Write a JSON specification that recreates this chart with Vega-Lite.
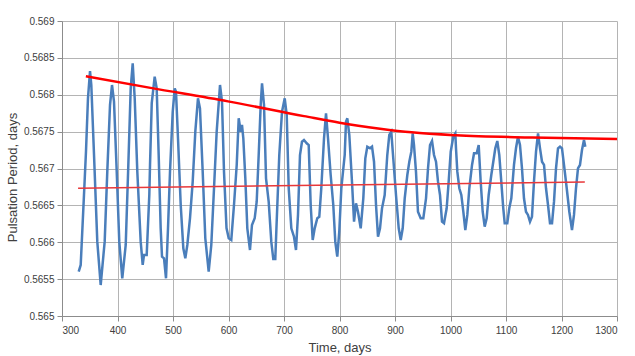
{
  "$schema": "https://vega.github.io/schema/vega-lite/v6.json",
  "autosize": "none",
  "width": 555,
  "height": 295,
  "padding": {"left": 62, "top": 21, "right": 18, "bottom": 40},
  "background": "white",
  "config": {
    "view": {"stroke": null},
    "font": "Liberation Sans",
    "axis": {
      "gridColor": "#b4b4b4",
      "gridWidth": 1,
      "domainColor": "#8c8c8c",
      "tickColor": "#8c8c8c",
      "tickSize": 5,
      "labelColor": "#404040",
      "labelFontSize": 10,
      "labelOverlap": false,
      "titleColor": "#404040",
      "titleFontSize": 13,
      "titleFontWeight": "normal"
    }
  },
  "datasets": {
    "obs": [
      {"t":330.1,"p":0.565601},{"t":333.7,"p":0.565692},{"t":339.6,"p":0.566641},{"t":343.2,"p":0.567228},{"t":346.8,"p":0.567952},{"t":350.5,"p":0.568322},{"t":352.8,"p":0.568132},{"t":357.7,"p":0.567183},{"t":363.6,"p":0.566008},{"t":369.7,"p":0.56542},
      {"t":376.9,"p":0.566008},{"t":381.6,"p":0.566957},{"t":386.5,"p":0.567861},{"t":390.1,"p":0.568132},{"t":393.7,"p":0.567906},{"t":398.6,"p":0.566957},{"t":403.2,"p":0.566008},{"t":408.6,"p":0.565511},{"t":414.8,"p":0.565963},{"t":419.5,"p":0.567048},
      {"t":423.8,"p":0.568087},{"t":427.4,"p":0.568426},{"t":431.0,"p":0.567952},{"t":435.7,"p":0.566957},{"t":441.8,"p":0.566008},{"t":445.4,"p":0.565692},{"t":447.7,"p":0.565827},{"t":452.6,"p":0.565827},{"t":457.3,"p":0.566641},{"t":458.6,"p":0.567048},
      {"t":461.7,"p":0.567888},{"t":467.0,"p":0.568245},{"t":470.6,"p":0.568087},{"t":474.2,"p":0.567183},{"t":477.8,"p":0.566189},{"t":480.2,"p":0.565804},{"t":483.8,"p":0.565782},{"t":487.4,"p":0.565511},{"t":491.0,"p":0.566189},{"t":494.6,"p":0.566957},
      {"t":499.5,"p":0.56777},{"t":503.1,"p":0.568087},{"t":505.4,"p":0.568041},{"t":509.0,"p":0.56741},{"t":513.9,"p":0.566505},{"t":518.6,"p":0.565918},{"t":522.2,"p":0.565782},{"t":525.8,"p":0.565963},{"t":530.6,"p":0.566325},{"t":535.5,"p":0.566821},
      {"t":540.2,"p":0.567499},{"t":545.0,"p":0.567952},{"t":548.6,"p":0.567816},{"t":553.5,"p":0.566957},{"t":558.2,"p":0.566054},{"t":564.3,"p":0.565601},{"t":569.0,"p":0.565963},{"t":573.9,"p":0.566732},{"t":578.7,"p":0.567499},{"t":584.7,"p":0.568132},
      {"t":588.3,"p":0.567906},{"t":591.9,"p":0.566957},{"t":596.4,"p":0.566193},{"t":600.4,"p":0.566054},{"t":605.0,"p":0.566031},{"t":609.9,"p":0.566505},{"t":614.8,"p":0.567048},{"t":618.4,"p":0.567681},{"t":622.0,"p":0.567499},{"t":624.3,"p":0.56759},
      {"t":626.7,"p":0.56741},{"t":630.3,"p":0.566867},{"t":633.9,"p":0.566189},{"t":638.7,"p":0.565895},{"t":642.3,"p":0.566234},{"t":647.2,"p":0.566325},{"t":650.8,"p":0.56655},{"t":654.4,"p":0.567183},{"t":658.0,"p":0.567861},{"t":660.4,"p":0.568155},
      {"t":664.0,"p":0.567861},{"t":667.6,"p":0.566867},{"t":672.4,"p":0.56655},{"t":677.1,"p":0.566008},{"t":680.7,"p":0.565773},{"t":684.3,"p":0.565773},{"t":686.8,"p":0.566279},{"t":691.5,"p":0.567183},{"t":696.4,"p":0.56777},{"t":701.3,"p":0.567952},
      {"t":704.9,"p":0.567725},{"t":708.5,"p":0.566732},{"t":713.2,"p":0.566189},{"t":718.0,"p":0.566075},{"t":721.6,"p":0.565895},{"t":725.2,"p":0.56637},{"t":728.8,"p":0.567183},{"t":732.4,"p":0.567363},{"t":736.0,"p":0.567386},{"t":740.9,"p":0.567342},
      {"t":744.5,"p":0.567319},{"t":748.1,"p":0.566505},{"t":751.7,"p":0.566031},{"t":755.3,"p":0.566189},{"t":760.0,"p":0.566325},{"t":763.6,"p":0.566346},{"t":767.2,"p":0.566732},{"t":772.1,"p":0.56741},{"t":775.7,"p":0.567748},{"t":779.3,"p":0.56741},
      {"t":784.1,"p":0.566912},{"t":788.8,"p":0.566505},{"t":792.4,"p":0.566008},{"t":796.0,"p":0.565804},{"t":799.6,"p":0.566143},{"t":803.3,"p":0.566732},{"t":806.9,"p":0.567003},{"t":809.4,"p":0.567183},{"t":811.7,"p":0.567635},{"t":814.1,"p":0.567681},
      {"t":817.7,"p":0.567454},{"t":822.5,"p":0.566821},{"t":826.2,"p":0.566279},{"t":829.7,"p":0.566528},{"t":833.3,"p":0.566414},{"t":838.2,"p":0.566189},{"t":842.9,"p":0.566596},{"t":846.5,"p":0.567138},{"t":850.1,"p":0.567296},{"t":855.0,"p":0.567274},
      {"t":858.6,"p":0.567296},{"t":862.2,"p":0.567092},{"t":865.8,"p":0.566505},{"t":869.4,"p":0.566075},{"t":873.0,"p":0.566189},{"t":876.6,"p":0.56646},{"t":881.4,"p":0.566641},{"t":886.1,"p":0.567183},{"t":889.7,"p":0.567454},{"t":893.3,"p":0.567499},
      {"t":896.9,"p":0.567138},{"t":901.8,"p":0.566641},{"t":906.7,"p":0.566189},{"t":910.3,"p":0.566031},{"t":913.9,"p":0.566189},{"t":917.5,"p":0.566596},{"t":922.2,"p":0.566912},{"t":925.8,"p":0.567092},{"t":929.4,"p":0.567228},{"t":931.9,"p":0.567477},
      {"t":934.2,"p":0.567319},{"t":937.8,"p":0.566957},{"t":941.4,"p":0.566414},{"t":946.3,"p":0.566325},{"t":951.0,"p":0.566325},{"t":955.9,"p":0.566596},{"t":959.5,"p":0.567003},{"t":963.1,"p":0.567319},{"t":966.7,"p":0.567373},{"t":970.3,"p":0.567183},
      {"t":973.9,"p":0.567092},{"t":977.5,"p":0.566821},{"t":981.1,"p":0.566641},{"t":984.7,"p":0.566279},{"t":988.3,"p":0.566257},{"t":993.1,"p":0.56646},{"t":996.7,"p":0.566821},{"t":1000.4,"p":0.567228},{"t":1005.0,"p":0.567431},{"t":1008.7,"p":0.567477},
      {"t":1009.9,"p":0.567274},{"t":1012.3,"p":0.566957},{"t":1015.9,"p":0.566732},{"t":1019.5,"p":0.566641},{"t":1023.1,"p":0.566414},{"t":1026.7,"p":0.566166},{"t":1030.3,"p":0.56637},{"t":1033.9,"p":0.566732},{"t":1038.8,"p":0.567048},{"t":1042.4,"p":0.567206},
      {"t":1047.2,"p":0.567206},{"t":1050.8,"p":0.567319},{"t":1054.4,"p":0.566821},{"t":1058.0,"p":0.566414},{"t":1061.6,"p":0.566211},{"t":1065.2,"p":0.566325},{"t":1068.8,"p":0.566641},{"t":1073.5,"p":0.566912},{"t":1077.1,"p":0.567092},{"t":1080.7,"p":0.567274},
      {"t":1084.3,"p":0.567373},{"t":1087.9,"p":0.567183},{"t":1091.5,"p":0.566821},{"t":1095.1,"p":0.56646},{"t":1097.7,"p":0.566257},{"t":1102.3,"p":0.566257},{"t":1105.9,"p":0.56646},{"t":1109.6,"p":0.566596},{"t":1114.4,"p":0.567048},{"t":1118.0,"p":0.567274},
      {"t":1121.6,"p":0.567431},{"t":1125.2,"p":0.567319},{"t":1128.8,"p":0.567003},{"t":1132.4,"p":0.566596},{"t":1136.0,"p":0.566414},{"t":1139.6,"p":0.56637},{"t":1143.2,"p":0.566279},{"t":1146.8,"p":0.566346},{"t":1150.4,"p":0.566821},{"t":1154.1,"p":0.567228},
      {"t":1157.7,"p":0.567477},{"t":1161.3,"p":0.567274},{"t":1164.9,"p":0.567092},{"t":1168.5,"p":0.567048},{"t":1172.1,"p":0.566732},{"t":1175.7,"p":0.566505},{"t":1179.3,"p":0.566257},{"t":1182.9,"p":0.566257},{"t":1186.5,"p":0.56655},{"t":1190.1,"p":0.567003},
      {"t":1193.7,"p":0.567274},{"t":1197.3,"p":0.567296},{"t":1200.9,"p":0.567274},{"t":1204.5,"p":0.567048},{"t":1209.4,"p":0.566732},{"t":1214.1,"p":0.566414},{"t":1218.9,"p":0.566166},{"t":1222.5,"p":0.56637},{"t":1226.1,"p":0.566732},{"t":1229.7,"p":0.567003},
      {"t":1233.3,"p":0.567048},{"t":1236.9,"p":0.567251},{"t":1240.5,"p":0.567386},{"t":1242.9,"p":0.567296}
    ],
    "envelope": [
      {"t":343,"p":0.56825},{"t":462,"p":0.56809},{"t":599,"p":0.56791},{"t":736,"p":0.56771},{"t":800,"p":0.56762},{"t":873,"p":0.56754},{"t":930,"p":0.56749},{"t":1010,"p":0.56745},{"t":1147,"p":0.56742},{"t":1300,"p":0.5674}
    ],
    "trend": [
      {"t":329,"p":0.566732},{"t":1242,"p":0.566817}
    ]
  },
  "encoding": {
    "x": {
      "field": "t", "type": "quantitative",
      "scale": {"domain": [300, 1300], "nice": false, "zero": false},
      "axis": {
        "values": [300,400,500,600,700,800,900,1000,1100,1200,1300],
        "tickCount": 30,
        "format": "d",
        "title": "Time, days",
        "labelPadding": 4,
        "titlePadding": 6,
        "grid": true
      }
    },
    "y": {
      "field": "p", "type": "quantitative",
      "scale": {"domain": [0.565, 0.569], "nice": false, "zero": false},
      "axis": {
        "values": [0.565,0.5655,0.566,0.5665,0.567,0.5675,0.568,0.5685,0.569],
        "tickCount": 30,
        "format": ".4~f",
        "title": "Pulsation Period, days",
        "labelPadding": 3,
        "titleX": -43,
        "titleY": 156,
        "grid": true
      }
    }
  },
  "layer": [
    {
      "data": {"name": "obs"},
      "mark": {"type": "line", "color": "#4a7ebb", "strokeWidth": 2.5, "clip": true}
    },
    {
      "data": {"name": "envelope"},
      "mark": {"type": "line", "color": "#ff0000", "strokeWidth": 2.5, "interpolate": "monotone"}
    },
    {
      "data": {"name": "trend"},
      "mark": {"type": "line", "color": "#e8383a", "strokeWidth": 1.5}
    }
  ]
}
